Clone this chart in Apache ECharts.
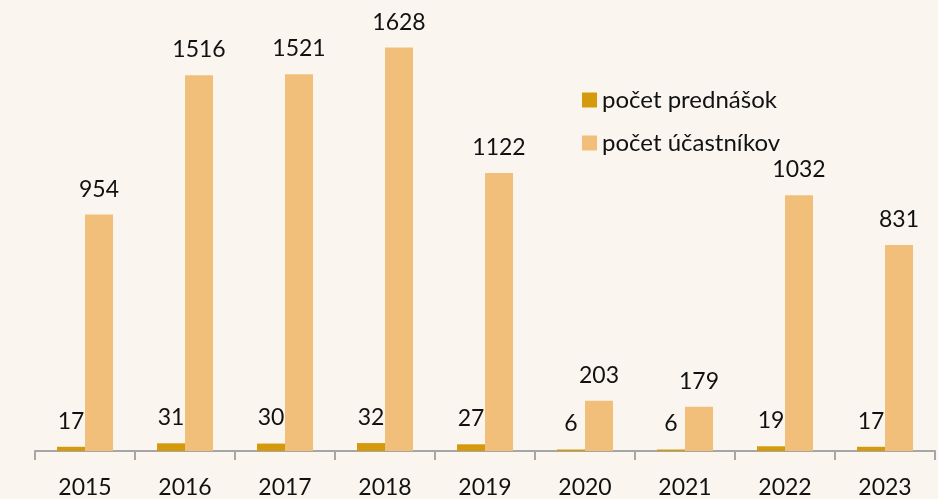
<!DOCTYPE html>
<html>
<head>
<meta charset="utf-8">
<script src="https://cdn.jsdelivr.net/npm/echarts@6/dist/echarts.min.js"></script>
<style>
html,body{margin:0;padding:0;background:#faf6ef;}
#chart1{width:938px;height:499px;}
</style>
</head>
<body>
<div id="chart1"></div>
<script>
var years = ['2015','2016','2017','2018','2019','2020','2021','2022','2023'];
var prednasky = [17, 31, 30, 32, 27, 6, 6, 19, 17];
var ucastnici = [954, 1516, 1521, 1628, 1122, 203, 179, 1032, 831];

var font = 'Lato, "Open Sans", sans-serif';
var Chart1 = echarts.init(document.getElementById('chart1'));
var option1 = {
    backgroundColor: '#faf6ef',
    textStyle: {fontFamily: font},
    animation: false,
    legend: {
        orient: 'vertical',
        left: 577,
        top: 83,
        itemWidth: 15,
        itemHeight: 15,
        itemGap: 19,
        icon: 'rect',
        textStyle: {fontSize: 24, color: '#111', fontFamily: font},
        data: ['počet prednášok', 'počet účastníkov']
    },
    grid: {left: 35, right: 3, top: 5, bottom: 47},
    xAxis: {
        type: 'category',
        data: years,
        axisLine: {lineStyle: {color: '#a6a6a6', width: 2}},
        axisTick: {show: true, length: 9, lineStyle: {color: '#a6a6a6', width: 2}},
        axisLabel: {fontSize: 23, color: '#111', margin: 25, fontFamily: font}
    },
    yAxis: {
        type: 'value',
        min: 0,
        max: 1800,
        show: false,
        splitLine: {show: false}
    },
    series: [
        {
            name: 'počet prednášok',
            type: 'bar',
            barWidth: 28,
            barGap: '0%',
            itemStyle: {color: '#d59a0b'},
            label: {show: true, position: 'top', distance: 14, fontSize: 23, color: '#111', fontFamily: font},
            data: prednasky
        },
        {
            name: 'počet účastníkov',
            type: 'bar',
            barWidth: 28,
            barGap: '0%',
            itemStyle: {color: '#f2bf7a'},
            label: {show: true, position: 'top', distance: 14, fontSize: 23, color: '#111', fontFamily: font},
            data: ucastnici
        }
    ]
};
Chart1.setOption(option1);

window.onresize = function () {
    Chart1.resize();
}
</script>
</body>
</html>
